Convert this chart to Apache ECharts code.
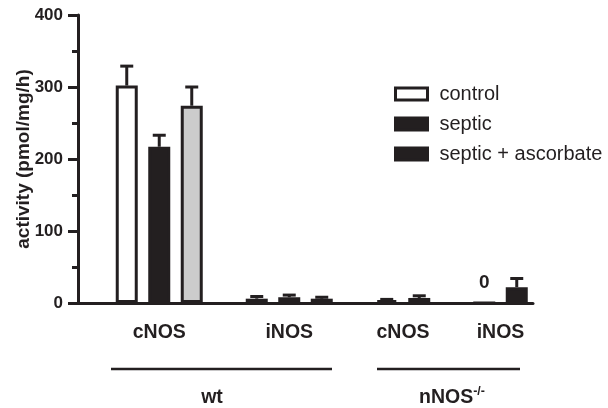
<!DOCTYPE html>
<html><head><meta charset="utf-8">
<script src="https://cdn.jsdelivr.net/npm/echarts@6/dist/echarts.min.js"></script>
<style>html,body{margin:0;padding:0;background:#fff}#c{width:608px;height:408px}</style>
</head><body><div id="c"></div>
<script>
// ---- data ----
const categories = ['cNOS', 'iNOS', 'cNOS', 'iNOS'];
const genotypes = ['wt', 'nNOS'];
const seriesNames = ['control', 'septic', 'septic + ascorbate'];
const control = [302, 6, 4, 0];
const controlErr = [27, 3, 1, 0];
const septic = [217, 8, 7, 22];
const septicErr = [16, 3, 3, 12];
const ascorbate = [274, 6, null, null];
const ascorbateErr = [26, 2, null, null];
const yTicks = [0, 100, 200, 300, 400];

// ---- layout / style ----
const FONT = '"Liberation Sans", Arial, sans-serif';
const INK = '#231f20';
const groupStart = [1, 5, 9, 12];
const nSlots = 14;
const slotNames = Array.from({length: nSlots}, (_, i) => 's' + i);
const values = [control, septic, ascorbate];
const errs = [controlErr, septicErr, ascorbateErr];
const fills = ['#ffffff', INK, '#cccccc'];

const groupBars = categories.map((_, g) => values.filter(v => v[g] !== null).length);
const groupCenters = categories.map((_, g) => groupStart[g] + groupBars[g] / 2);

const barSeries = values.map((arr, s) => {
  const data = slotNames.map(() => '-');
  arr.forEach((v, g) => {
    if (v === null) return;
    const item = {value: v};
    if (v === 0) item.label = {show: true, formatter: '0'};
    data[groupStart[g] + s] = item;
  });
  return {
    name: seriesNames[s], type: 'bar', data, barWidth: 22, barGap: '-100%', z: 3,
    itemStyle: {color: fills[s], borderColor: INK, borderWidth: 3},
    label: {position: 'top', distance: 9, fontSize: 19, fontWeight: 'bold', color: INK, fontFamily: FONT},
    emphasis: {disabled: true}, animation: false
  };
});

const errData = [];
values.forEach((arr, s) => arr.forEach((v, g) => {
  if (v === null || !errs[s][g]) return;
  errData.push([groupStart[g] + s, v, v + errs[s][g]]);
}));

const errSeries = {
  type: 'custom', data: errData, z: 2, animation: false, silent: true,
  encode: {x: 0, y: [1, 2]},
  renderItem(params, api) {
    const x = api.value(0), v = api.value(1), t = api.value(2);
    const p0 = api.coord([x, v]), p1 = api.coord([x, t]);
    return {type: 'group', children: [
      {type: 'line', shape: {x1: p0[0], y1: p0[1], x2: p1[0], y2: p1[1]}, style: {stroke: INK, lineWidth: 3}},
      {type: 'line', shape: {x1: p1[0] - 6.5, y1: p1[1], x2: p1[0] + 6.5, y2: p1[1]}, style: {stroke: INK, lineWidth: 3}}
    ]};
  }
};

const chart = echarts.init(document.getElementById('c'), null, {renderer: 'canvas'});
chart.setOption({
  backgroundColor: '#fff',
  animation: false,
  textStyle: {fontFamily: FONT},
  grid: {left: 78, top: 15, width: 455, height: 288, containLabel: false},
  legend: {
    orient: 'vertical', left: 394, top: 84, padding: 0, itemWidth: 32, itemHeight: 12, itemGap: 10,
    icon: 'rect', selectedMode: false,
    textStyle: {fontSize: 20, color: INK, fontFamily: FONT, lineHeight: 16, padding: [0, 0, 0, 7]},
    data: [
      {name: seriesNames[0], itemStyle: {color: '#fff', borderColor: INK, borderWidth: 3}},
      {name: seriesNames[1], itemStyle: {color: INK, borderColor: INK, borderWidth: 3}},
      {name: seriesNames[2], itemStyle: {color: INK, borderColor: INK, borderWidth: 3}}
    ]
  },
  xAxis: [
    {type: 'category', data: slotNames, axisLine: {lineStyle: {color: INK, width: 3}},
     axisTick: {show: false}, axisLabel: {show: false}},
    {type: 'value', min: 0, max: nSlots, position: 'bottom',
     axisLine: {show: false}, axisTick: {show: false}, splitLine: {show: false},
     axisLabel: {customValues: groupCenters, margin: 20, fontSize: 19.5, fontWeight: 'bold', color: INK, fontFamily: FONT,
       formatter: v => { const g = groupCenters.indexOf(v); return g >= 0 ? categories[g] : ''; }}}
  ],
  yAxis: {
    type: 'value', min: yTicks[0], max: yTicks[yTicks.length - 1], interval: yTicks[1] - yTicks[0],
    axisLine: {show: true, lineStyle: {color: INK, width: 3}},
    axisTick: {show: true, length: 10, lineStyle: {color: INK, width: 3}},
    minorTick: {show: true, splitNumber: 2, length: 6, lineStyle: {color: INK, width: 3}},
    splitLine: {show: false},
    axisLabel: {margin: 15, fontSize: 17, fontWeight: 'bold', color: INK, fontFamily: FONT},
    name: 'activity (pmol/mg/h)', nameLocation: 'middle', nameGap: 45, nameMoveOverlap: false,
    nameTextStyle: {fontSize: 19, fontWeight: 'bold', color: INK, fontFamily: FONT}
  },
  series: [...barSeries, errSeries],
  graphic: [
    {type: 'line', shape: {x1: 111, y1: 369, x2: 332, y2: 369}, style: {stroke: INK, lineWidth: 2.5}},
    {type: 'line', shape: {x1: 377, y1: 369, x2: 520, y2: 369}, style: {stroke: INK, lineWidth: 2.5}},
    {type: 'text', x: 212, y: 398, style: {text: genotypes[0], fontSize: 19.5, fontWeight: 'bold', fill: INK, fontFamily: FONT, align: 'center', verticalAlign: 'middle'}},
    {type: 'text', x: 452, y: 398, style: {
      text: '{a|' + genotypes[1] + '}{b|-/-}', align: 'center', verticalAlign: 'middle', fontFamily: FONT,
      rich: {a: {fontSize: 19.5, fontWeight: 'bold', fill: INK, fontFamily: FONT},
             b: {fontSize: 12.5, fontWeight: 'bold', fill: INK, fontFamily: FONT, padding: [0, 0, 12, 0]}}}}
  ]
});
</script></body></html>
